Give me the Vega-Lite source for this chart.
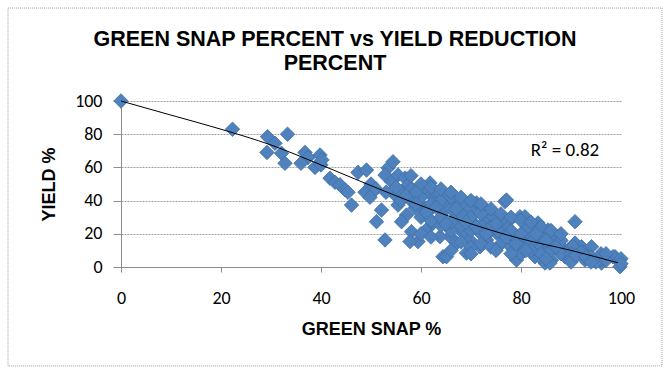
{
  "$schema": "https://vega.github.io/schema/vega-lite/v6.json",
  "width": 500,
  "height": 166,
  "autosize": {"type": "none"},
  "padding": {"left": 121, "top": 101, "right": 49, "bottom": 109},
  "background": "white",
  "config": {
    "view": {"stroke": null},
    "axis": {
      "labelFont": "Carlito, Open Sans, sans-serif",
      "labelFontSize": 18,
      "labelColor": "#000000",
      "labelOverlap": false,
      "tickCount": 12,
      "titleFont": "Liberation Sans, Arial, sans-serif",
      "titleFontSize": 18,
      "titleFontWeight": "bold",
      "titleColor": "#000000",
      "domainColor": "#8c8c8c",
      "tickColor": "#8c8c8c"
    }
  },
  "title": {
    "text": ["GREEN SNAP PERCENT vs YIELD REDUCTION", "PERCENT"],
    "font": "Liberation Sans, Arial, sans-serif",
    "fontSize": 21.5,
    "fontWeight": "bold",
    "color": "#000000",
    "anchor": "middle",
    "frame": "group",
    "dx": -36,
    "offset": -67,
    "lineHeight": 24
  },
  "datasets": {
    "points": [
      {"snap": 0, "yield": 100}, {"snap": 22.3, "yield": 83}, {"snap": 29.3, "yield": 78.5}, {"snap": 29.2, "yield": 69},
      {"snap": 30.8, "yield": 74.5}, {"snap": 33.3, "yield": 80}, {"snap": 32.1, "yield": 68.5}, {"snap": 32.8, "yield": 62.5},
      {"snap": 36.8, "yield": 69}, {"snap": 37.4, "yield": 66}, {"snap": 36, "yield": 62.5}, {"snap": 39.8, "yield": 67.5},
      {"snap": 38.8, "yield": 60}, {"snap": 40, "yield": 61.5}, {"snap": 40.2, "yield": 64.5}, {"snap": 41.8, "yield": 53.5},
      {"snap": 42.8, "yield": 51}, {"snap": 43.8, "yield": 49.5}, {"snap": 44.8, "yield": 46.5}, {"snap": 45.4, "yield": 45},
      {"snap": 46.1, "yield": 37.3}, {"snap": 47.4, "yield": 57}, {"snap": 49.1, "yield": 58.4}, {"snap": 48.8, "yield": 45},
      {"snap": 49.8, "yield": 42}, {"snap": 52.1, "yield": 34.3}, {"snap": 51.1, "yield": 27.3}, {"snap": 52.8, "yield": 16.3},
      {"snap": 53.4, "yield": 59.6}, {"snap": 54.4, "yield": 63.4}, {"snap": 52.8, "yield": 55.4}, {"snap": 54.1, "yield": 51.4},
      {"snap": 55.4, "yield": 55.4}, {"snap": 56.8, "yield": 53.6}, {"snap": 57.4, "yield": 49.4}, {"snap": 57.1, "yield": 31.3},
      {"snap": 56.1, "yield": 27.3}, {"snap": 58.1, "yield": 21.3}, {"snap": 59.4, "yield": 15.3}, {"snap": 57.8, "yield": 15.3},
      {"snap": 60.8, "yield": 45}, {"snap": 60.1, "yield": 37.3}, {"snap": 62.1, "yield": 43.4}, {"snap": 61.4, "yield": 23.5},
      {"snap": 58.8, "yield": 35.5}, {"snap": 54.8, "yield": 43.4}, {"snap": 55.4, "yield": 37.3}, {"snap": 56.1, "yield": 45.4},
      {"snap": 61.8, "yield": 50.6}, {"snap": 63.1, "yield": 44.6}, {"snap": 62.4, "yield": 26.5}, {"snap": 64.4, "yield": 6.2},
      {"snap": 65.8, "yield": 40.4}, {"snap": 67.1, "yield": 30.3}, {"snap": 68.4, "yield": 20.5}, {"snap": 69.1, "yield": 8.4},
      {"snap": 71.1, "yield": 38.6}, {"snap": 72.4, "yield": 36.3}, {"snap": 73.4, "yield": 28.3}, {"snap": 74.4, "yield": 30.3},
      {"snap": 76.8, "yield": 39.4}, {"snap": 77.8, "yield": 28.3}, {"snap": 77.1, "yield": 24.3}, {"snap": 79.8, "yield": 30.3},
      {"snap": 78.4, "yield": 18.3}, {"snap": 79.1, "yield": 4.2}, {"snap": 73.1, "yield": 16.3}, {"snap": 71.8, "yield": 12.2},
      {"snap": 69.8, "yield": 16.3}, {"snap": 65.8, "yield": 18.3}, {"snap": 63.8, "yield": 18.3}, {"snap": 67.1, "yield": 14.4},
      {"snap": 67.8, "yield": 24.3}, {"snap": 75.1, "yield": 20.5}, {"snap": 81.1, "yield": 22.3}, {"snap": 80.4, "yield": 16.3},
      {"snap": 69.8, "yield": 34.3}, {"snap": 64.8, "yield": 34.3}, {"snap": 63.8, "yield": 44.6}, {"snap": 80.8, "yield": 30.3},
      {"snap": 83.4, "yield": 26.5}, {"snap": 85.4, "yield": 22.3}, {"snap": 82.8, "yield": 6.2}, {"snap": 84.8, "yield": 2.4},
      {"snap": 86.1, "yield": 4.2}, {"snap": 90.8, "yield": 27.3}, {"snap": 90.8, "yield": 14.4}, {"snap": 92.1, "yield": 12.2},
      {"snap": 94.1, "yield": 12.2}, {"snap": 92.8, "yield": 4.2}, {"snap": 96.1, "yield": 2.4}, {"snap": 98.8, "yield": 6.2},
      {"snap": 99.8, "yield": 0.2}, {"snap": 88.1, "yield": 12.2}, {"snap": 88.8, "yield": 6.2}, {"snap": 87.4, "yield": 18.3},
      {"snap": 82.1, "yield": 18.3}, {"snap": 84.1, "yield": 12.2}, {"snap": 86.1, "yield": 14.4}, {"snap": 89.4, "yield": 10.2},
      {"snap": 81.4, "yield": 24.3}, {"snap": 92.4, "yield": 9.2}, {"snap": 95.8, "yield": 4.2}, {"snap": 98.4, "yield": 6.2},
      {"snap": 90.4, "yield": 12.2}, {"snap": 89.1, "yield": 8.4}, {"snap": 85.8, "yield": 2.4}, {"snap": 83.8, "yield": 6.2},
      {"snap": 83.1, "yield": 12.2}, {"snap": 65.1, "yield": 6.2}, {"snap": 77.1, "yield": 40.3},
      {"snap": 58, "yield": 40}, {"snap": 58, "yield": 47}, {"snap": 60, "yield": 30}, {"snap": 60, "yield": 42},
      {"snap": 62, "yield": 35}, {"snap": 62, "yield": 28}, {"snap": 62, "yield": 38}, {"snap": 64, "yield": 40},
      {"snap": 64, "yield": 25}, {"snap": 64, "yield": 30}, {"snap": 66, "yield": 35}, {"snap": 66, "yield": 22},
      {"snap": 66, "yield": 27}, {"snap": 66, "yield": 42}, {"snap": 68, "yield": 32}, {"snap": 68, "yield": 38},
      {"snap": 68, "yield": 15}, {"snap": 70, "yield": 28}, {"snap": 70, "yield": 22}, {"snap": 70, "yield": 30},
      {"snap": 70, "yield": 12}, {"snap": 72, "yield": 25}, {"snap": 72, "yield": 20}, {"snap": 72, "yield": 32},
      {"snap": 72, "yield": 14}, {"snap": 74, "yield": 22}, {"snap": 74, "yield": 24}, {"snap": 74, "yield": 12},
      {"snap": 76, "yield": 20}, {"snap": 76, "yield": 14}, {"snap": 76, "yield": 28}, {"snap": 78, "yield": 22},
      {"snap": 78, "yield": 12}, {"snap": 80, "yield": 20}, {"snap": 80, "yield": 12}, {"snap": 80, "yield": 8},
      {"snap": 82, "yield": 15}, {"snap": 82, "yield": 10}, {"snap": 84, "yield": 18}, {"snap": 84, "yield": 8},
      {"snap": 86, "yield": 10}, {"snap": 86, "yield": 16}, {"snap": 88, "yield": 8}, {"snap": 88, "yield": 16},
      {"snap": 90, "yield": 8}, {"snap": 90, "yield": 5}, {"snap": 92, "yield": 9}, {"snap": 94, "yield": 6},
      {"snap": 96, "yield": 8},
      {"snap": 58, "yield": 55}, {"snap": 60, "yield": 50}, {"snap": 62, "yield": 48}, {"snap": 64, "yield": 47},
      {"snap": 66, "yield": 45}, {"snap": 68, "yield": 42}, {"snap": 70, "yield": 40}, {"snap": 72, "yield": 38},
      {"snap": 74, "yield": 35}, {"snap": 76, "yield": 32}, {"snap": 78, "yield": 30}, {"snap": 80, "yield": 28},
      {"snap": 82, "yield": 27}, {"snap": 84, "yield": 24}, {"snap": 86, "yield": 22}, {"snap": 88, "yield": 20},
      {"snap": 60, "yield": 20}, {"snap": 62, "yield": 18}, {"snap": 66, "yield": 10}, {"snap": 70, "yield": 8},
      {"snap": 75, "yield": 10}, {"snap": 78, "yield": 8}, {"snap": 85, "yield": 5}, {"snap": 90, "yield": 3},
      {"snap": 95, "yield": 3},
      {"snap": 50, "yield": 50}, {"snap": 51, "yield": 47}, {"snap": 53, "yield": 45}, {"snap": 55, "yield": 48},
      {"snap": 56, "yield": 40}, {"snap": 57, "yield": 43}, {"snap": 59, "yield": 45}, {"snap": 59, "yield": 38},
      {"snap": 61, "yield": 33}, {"snap": 63, "yield": 36}, {"snap": 65, "yield": 26}, {"snap": 67, "yield": 35},
      {"snap": 69, "yield": 27}, {"snap": 71, "yield": 24}, {"snap": 73, "yield": 20}, {"snap": 75, "yield": 26},
      {"snap": 77, "yield": 18}, {"snap": 79, "yield": 14}, {"snap": 81, "yield": 10}, {"snap": 83, "yield": 20},
      {"snap": 85, "yield": 16}, {"snap": 87, "yield": 12}, {"snap": 91, "yield": 7}, {"snap": 93, "yield": 6},
      {"snap": 97, "yield": 4}, {"snap": 100, "yield": 5}, {"snap": 100, "yield": 2}, {"snap": 97, "yield": 8},
      {"snap": 94, "yield": 3}
    ],
    "trend": [
      {"snap": 0, "yield": 100}, {"snap": 10, "yield": 91.5}, {"snap": 20, "yield": 83}, {"snap": 30, "yield": 73.5},
      {"snap": 40, "yield": 61.5}, {"snap": 50, "yield": 49}, {"snap": 60, "yield": 37}, {"snap": 70, "yield": 26},
      {"snap": 80, "yield": 17}, {"snap": 90, "yield": 10}, {"snap": 99.4, "yield": 2.5}
    ],
    "note": [{"label": "R² = 0.82"}]
  },
  "layer": [
    {
      "data": {"name": "points"},
      "mark": {"type": "point", "shape": "diamond", "filled": true, "size": 210, "fill": "#4F81BD", "stroke": "#3F6FA8", "strokeWidth": 0.8, "opacity": 1},
      "encoding": {
        "x": {
          "field": "snap", "type": "quantitative",
          "scale": {"domain": [0, 100], "nice": false, "zero": false},
          "axis": {"title": "GREEN SNAP %", "values": [0, 20, 40, 60, 80, 100], "tickCount": 12, "grid": false, "tickSize": 5, "labelPadding": 17, "titlePadding": 13, "labelFlush": false}
        },
        "y": {
          "field": "yield", "type": "quantitative",
          "scale": {"domain": [0, 100], "nice": false, "zero": false},
          "axis": {"title": "YIELD %", "values": [0, 20, 40, 60, 80, 100], "tickCount": 12, "grid": true, "gridColor": "#a0a0a0", "gridDash": [2, 1], "tickSize": 8, "labelPadding": 11, "titlePadding": 16, "labelFlush": false}
        }
      }
    },
    {
      "data": {"name": "trend"},
      "mark": {"type": "line", "color": "#000000", "strokeWidth": 1, "interpolate": "monotone"},
      "encoding": {
        "x": {"field": "snap", "type": "quantitative"},
        "y": {"field": "yield", "type": "quantitative"}
      }
    },
    {
      "data": {"name": "note"},
      "mark": {"type": "text", "font": "Carlito, Open Sans, sans-serif", "fontSize": 19, "color": "#000000", "align": "center", "baseline": "middle"},
      "encoding": {
        "x": {"datum": 88.8, "type": "quantitative"},
        "y": {"datum": 70.5, "type": "quantitative"},
        "text": {"field": "label"}
      }
    },
    {
      "data": {"name": "note"},
      "mark": {"type": "rect", "fill": null, "stroke": "#a0a0a0", "strokeWidth": 1, "strokeDash": [1, 1], "clip": false},
      "encoding": {
        "x": {"datum": -22.6, "type": "quantitative", "scale": {"domain": [0, 100], "nice": false, "zero": false},
              "axis": {"title": "GREEN SNAP %", "values": [0, 20, 40, 60, 80, 100], "tickCount": 12, "grid": false, "tickSize": 5, "labelPadding": 17, "titlePadding": 13, "labelFlush": false}},
        "x2": {"datum": 108.2},
        "y": {"datum": 156, "type": "quantitative", "scale": {"domain": [0, 100], "nice": false, "zero": false},
              "axis": {"title": "YIELD %", "values": [0, 20, 40, 60, 80, 100], "tickCount": 12, "grid": true, "gridColor": "#a0a0a0", "gridDash": [2, 1], "tickSize": 8, "labelPadding": 11, "titlePadding": 16, "labelFlush": false}},
        "y2": {"datum": -59.6}
      }
    }
  ]
}
